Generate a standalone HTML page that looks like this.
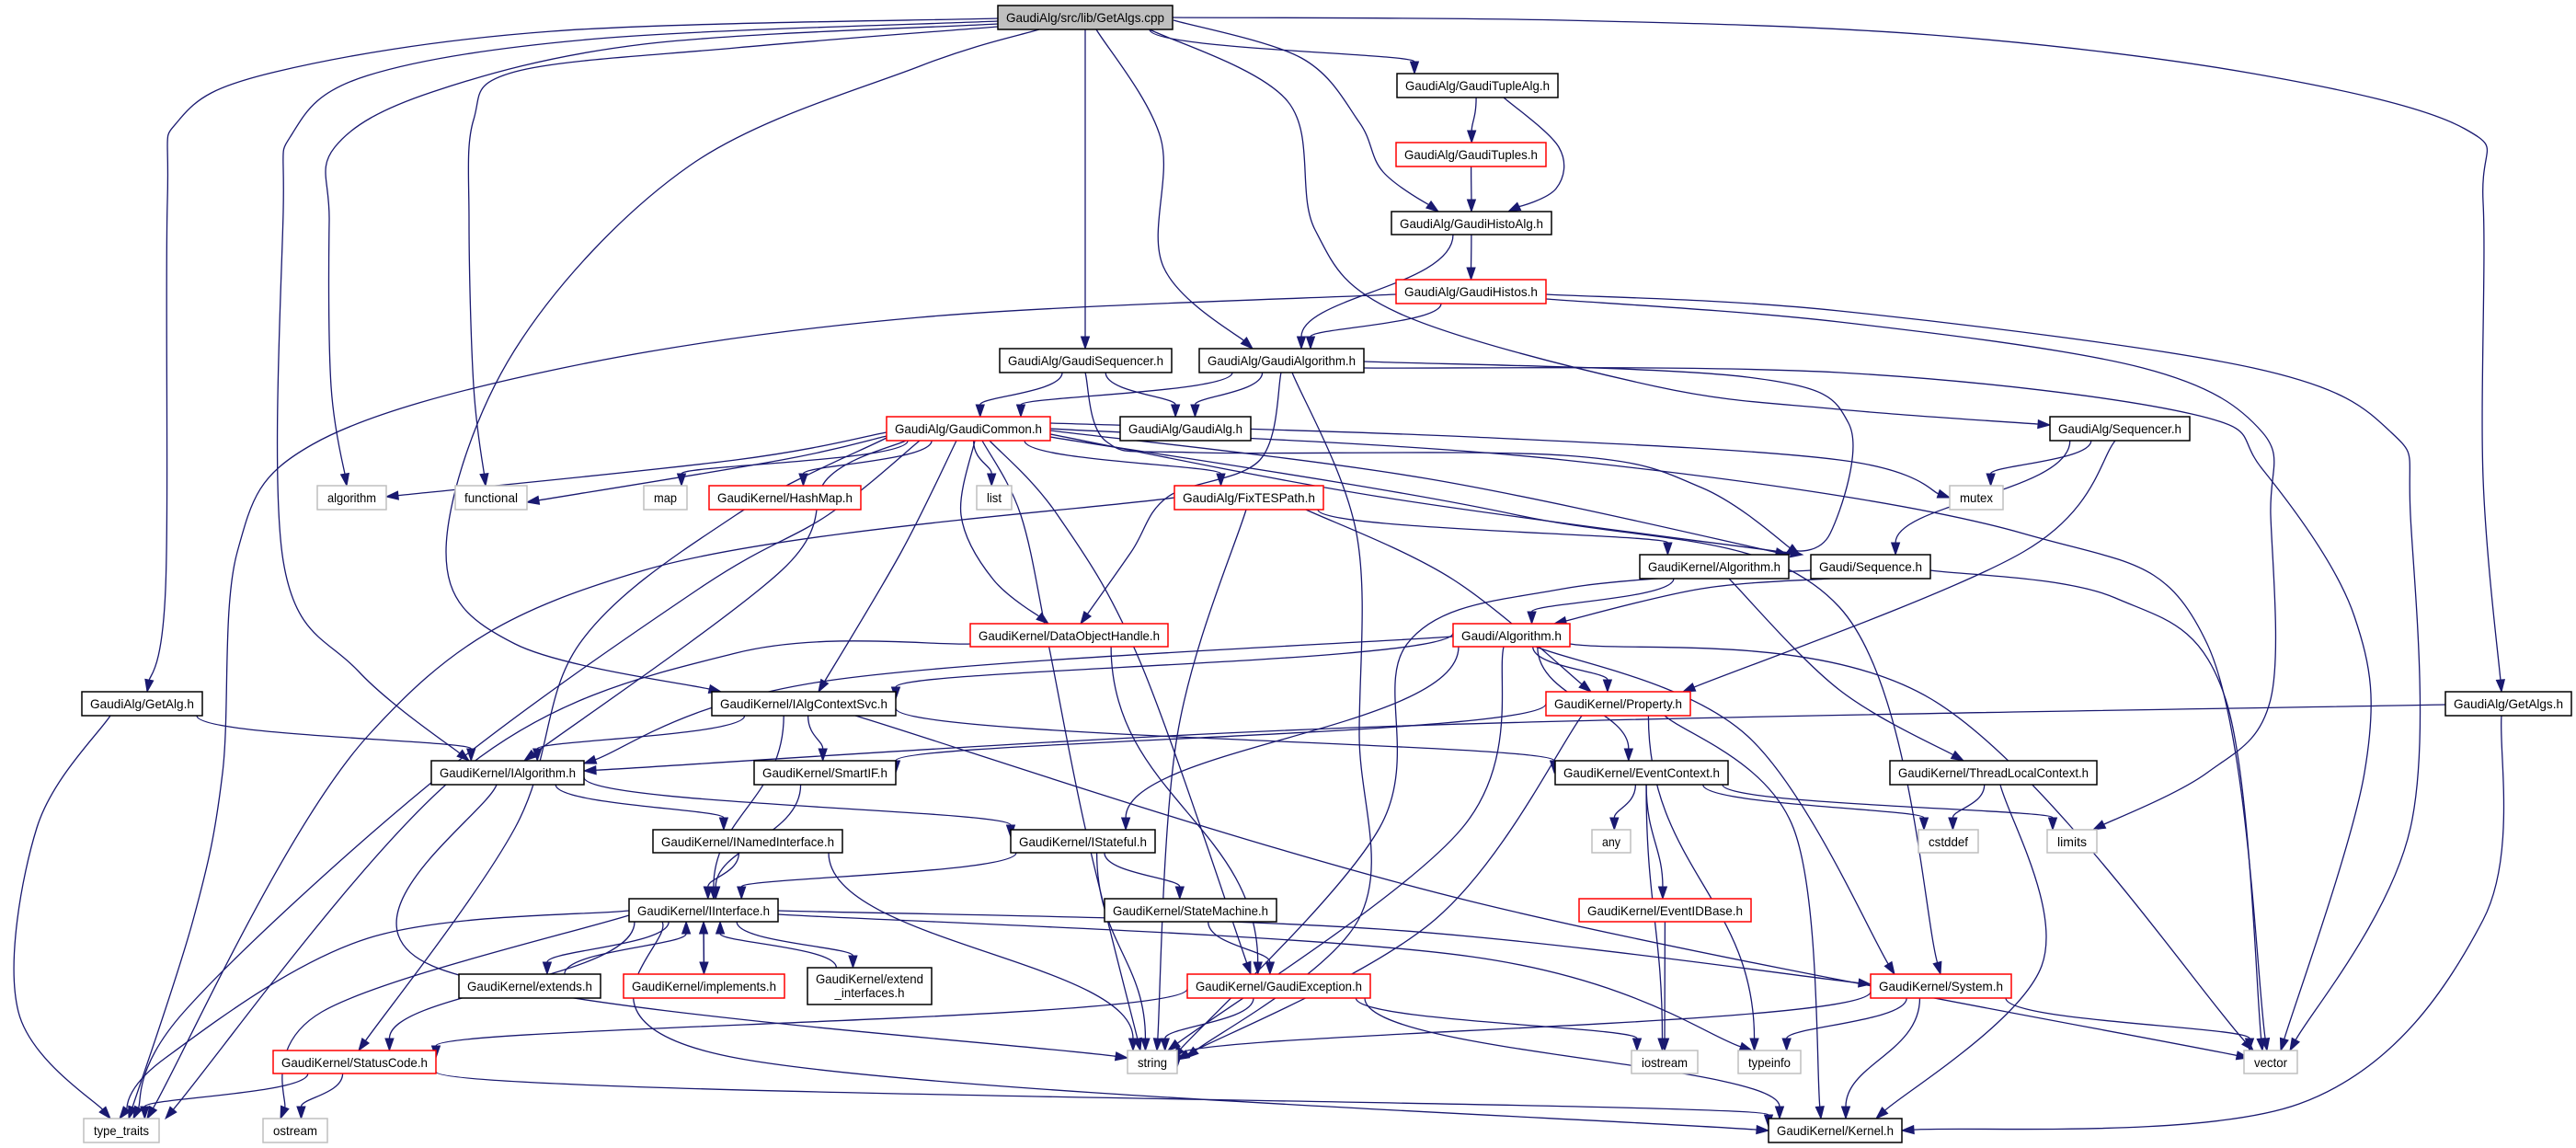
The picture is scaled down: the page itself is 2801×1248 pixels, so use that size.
<!DOCTYPE html>
<html><head><meta charset="utf-8">
<style>
html,body{margin:0;padding:0;background:#fff;}
svg{display:block;}
text{font-family:"Liberation Sans",sans-serif;font-size:14px;fill:#000;}
</style></head>
<body>
<svg id="g" xmlns="http://www.w3.org/2000/svg" width="2801" height="1248" viewBox="0 0 2801 1248">
<g id="edges"></g>
<g id="nodes">
<g id="cpp" data-t="root"><rect x="1085" y="6" width="190" height="26"/><text x="1180" y="24" text-anchor="middle" textLength="172" lengthAdjust="spacingAndGlyphs">GaudiAlg/src/lib/GetAlgs.cpp</text></g>
<g id="tuplealg"><rect x="1519" y="80" width="175" height="26"/><text x="1606.5" y="98" text-anchor="middle" textLength="157" lengthAdjust="spacingAndGlyphs">GaudiAlg/GaudiTupleAlg.h</text></g>
<g id="tuples" data-t="red"><rect x="1518" y="155" width="163" height="26"/><text x="1599.5" y="173" text-anchor="middle" textLength="145" lengthAdjust="spacingAndGlyphs">GaudiAlg/GaudiTuples.h</text></g>
<g id="histoalg"><rect x="1513" y="230" width="174" height="25"/><text x="1600" y="248" text-anchor="middle" textLength="156" lengthAdjust="spacingAndGlyphs">GaudiAlg/GaudiHistoAlg.h</text></g>
<g id="histos" data-t="red"><rect x="1518" y="304" width="163" height="26"/><text x="1599.5" y="322" text-anchor="middle" textLength="145" lengthAdjust="spacingAndGlyphs">GaudiAlg/GaudiHistos.h</text></g>
<g id="gseq"><rect x="1087" y="379" width="187" height="26"/><text x="1180.5" y="397" text-anchor="middle" textLength="169" lengthAdjust="spacingAndGlyphs">GaudiAlg/GaudiSequencer.h</text></g>
<g id="galgo"><rect x="1304" y="379" width="179" height="26"/><text x="1393.5" y="397" text-anchor="middle" textLength="161" lengthAdjust="spacingAndGlyphs">GaudiAlg/GaudiAlgorithm.h</text></g>
<g id="gcommon" data-t="red"><rect x="964" y="453" width="178" height="26"/><text x="1053" y="471" text-anchor="middle" textLength="160" lengthAdjust="spacingAndGlyphs">GaudiAlg/GaudiCommon.h</text></g>
<g id="galg"><rect x="1218" y="453" width="142" height="26"/><text x="1289" y="471" text-anchor="middle" textLength="124" lengthAdjust="spacingAndGlyphs">GaudiAlg/GaudiAlg.h</text></g>
<g id="sequencer"><rect x="2229" y="453" width="152" height="26"/><text x="2305" y="471" text-anchor="middle" textLength="134" lengthAdjust="spacingAndGlyphs">GaudiAlg/Sequencer.h</text></g>
<g id="algorithm" data-t="sys"><rect x="345" y="528" width="75" height="26"/><text x="382.5" y="546" text-anchor="middle" textLength="53" lengthAdjust="spacingAndGlyphs">algorithm</text></g>
<g id="functional" data-t="sys"><rect x="495" y="528" width="78" height="26"/><text x="534" y="546" text-anchor="middle" textLength="58" lengthAdjust="spacingAndGlyphs">functional</text></g>
<g id="map" data-t="sys"><rect x="700" y="528" width="47" height="26"/><text x="723.5" y="546" text-anchor="middle" textLength="25" lengthAdjust="spacingAndGlyphs">map</text></g>
<g id="hashmap" data-t="red"><rect x="771" y="528" width="165" height="26"/><text x="853.5" y="546" text-anchor="middle" textLength="147" lengthAdjust="spacingAndGlyphs">GaudiKernel/HashMap.h</text></g>
<g id="list" data-t="sys"><rect x="1062" y="528" width="38" height="26"/><text x="1081" y="546" text-anchor="middle" textLength="16" lengthAdjust="spacingAndGlyphs">list</text></g>
<g id="fixtes" data-t="red"><rect x="1277" y="528" width="162" height="26"/><text x="1358" y="546" text-anchor="middle" textLength="144" lengthAdjust="spacingAndGlyphs">GaudiAlg/FixTESPath.h</text></g>
<g id="mutex" data-t="sys"><rect x="2120" y="528" width="58" height="26"/><text x="2149" y="546" text-anchor="middle" textLength="36" lengthAdjust="spacingAndGlyphs">mutex</text></g>
<g id="kalgo"><rect x="1783" y="603" width="162" height="26"/><text x="1864" y="621" text-anchor="middle" textLength="144" lengthAdjust="spacingAndGlyphs">GaudiKernel/Algorithm.h</text></g>
<g id="gsequence"><rect x="1969" y="603" width="130" height="26"/><text x="2034" y="621" text-anchor="middle" textLength="112" lengthAdjust="spacingAndGlyphs">Gaudi/Sequence.h</text></g>
<g id="doh" data-t="red"><rect x="1055" y="678" width="215" height="25"/><text x="1162.5" y="696" text-anchor="middle" textLength="197" lengthAdjust="spacingAndGlyphs">GaudiKernel/DataObjectHandle.h</text></g>
<g id="galgorithm" data-t="red"><rect x="1580" y="678" width="127" height="25"/><text x="1643.5" y="696" text-anchor="middle" textLength="109" lengthAdjust="spacingAndGlyphs">Gaudi/Algorithm.h</text></g>
<g id="getalg"><rect x="89" y="752" width="131" height="26"/><text x="154.5" y="770" text-anchor="middle" textLength="113" lengthAdjust="spacingAndGlyphs">GaudiAlg/GetAlg.h</text></g>
<g id="iacs"><rect x="774" y="752" width="200" height="26"/><text x="874" y="770" text-anchor="middle" textLength="182" lengthAdjust="spacingAndGlyphs">GaudiKernel/IAlgContextSvc.h</text></g>
<g id="property" data-t="red"><rect x="1681" y="752" width="157" height="26"/><text x="1759.5" y="770" text-anchor="middle" textLength="139" lengthAdjust="spacingAndGlyphs">GaudiKernel/Property.h</text></g>
<g id="getalgs"><rect x="2659" y="752" width="137" height="26"/><text x="2727.5" y="770" text-anchor="middle" textLength="119" lengthAdjust="spacingAndGlyphs">GaudiAlg/GetAlgs.h</text></g>
<g id="ialgo"><rect x="469" y="827" width="166" height="26"/><text x="552" y="845" text-anchor="middle" textLength="148" lengthAdjust="spacingAndGlyphs">GaudiKernel/IAlgorithm.h</text></g>
<g id="smartif"><rect x="820" y="827" width="154" height="26"/><text x="897" y="845" text-anchor="middle" textLength="136" lengthAdjust="spacingAndGlyphs">GaudiKernel/SmartIF.h</text></g>
<g id="evctx"><rect x="1691" y="827" width="188" height="26"/><text x="1785" y="845" text-anchor="middle" textLength="170" lengthAdjust="spacingAndGlyphs">GaudiKernel/EventContext.h</text></g>
<g id="tlc"><rect x="2055" y="827" width="225" height="26"/><text x="2167.5" y="845" text-anchor="middle" textLength="207" lengthAdjust="spacingAndGlyphs">GaudiKernel/ThreadLocalContext.h</text></g>
<g id="inamed"><rect x="710" y="902" width="206" height="25"/><text x="813" y="920" text-anchor="middle" textLength="188" lengthAdjust="spacingAndGlyphs">GaudiKernel/INamedInterface.h</text></g>
<g id="istateful"><rect x="1099" y="902" width="157" height="25"/><text x="1177.5" y="920" text-anchor="middle" textLength="139" lengthAdjust="spacingAndGlyphs">GaudiKernel/IStateful.h</text></g>
<g id="any" data-t="sys"><rect x="1731" y="902" width="42" height="25"/><text x="1752" y="920" text-anchor="middle" textLength="20" lengthAdjust="spacingAndGlyphs">any</text></g>
<g id="cstddef" data-t="sys"><rect x="2086" y="902" width="65" height="25"/><text x="2118.5" y="920" text-anchor="middle" textLength="43" lengthAdjust="spacingAndGlyphs">cstddef</text></g>
<g id="limits" data-t="sys"><rect x="2226" y="902" width="54" height="25"/><text x="2253" y="920" text-anchor="middle" textLength="32" lengthAdjust="spacingAndGlyphs">limits</text></g>
<g id="iinterface"><rect x="684" y="977" width="162" height="25"/><text x="765" y="995" text-anchor="middle" textLength="144" lengthAdjust="spacingAndGlyphs">GaudiKernel/IInterface.h</text></g>
<g id="statemachine"><rect x="1201" y="977" width="187" height="25"/><text x="1294.5" y="995" text-anchor="middle" textLength="169" lengthAdjust="spacingAndGlyphs">GaudiKernel/StateMachine.h</text></g>
<g id="evid" data-t="red"><rect x="1717" y="977" width="187" height="25"/><text x="1810.5" y="995" text-anchor="middle" textLength="169" lengthAdjust="spacingAndGlyphs">GaudiKernel/EventIDBase.h</text></g>
<g id="extends"><rect x="499" y="1059" width="154" height="26"/><text x="576" y="1077" text-anchor="middle" textLength="136" lengthAdjust="spacingAndGlyphs">GaudiKernel/extends.h</text></g>
<g id="implements" data-t="red"><rect x="678" y="1059" width="175" height="26"/><text x="765.5" y="1077" text-anchor="middle" textLength="157" lengthAdjust="spacingAndGlyphs">GaudiKernel/implements.h</text></g>
<g id="extendi"><rect x="878" y="1052" width="135" height="40"/><text x="945.5" y="1069" text-anchor="middle" textLength="117" lengthAdjust="spacingAndGlyphs">GaudiKernel/extend</text><text x="945.5" y="1084" text-anchor="middle" textLength="76" lengthAdjust="spacingAndGlyphs">_interfaces.h</text></g>
<g id="gexc" data-t="red"><rect x="1291" y="1059" width="199" height="26"/><text x="1390.5" y="1077" text-anchor="middle" textLength="181" lengthAdjust="spacingAndGlyphs">GaudiKernel/GaudiException.h</text></g>
<g id="system" data-t="red"><rect x="2034" y="1059" width="153" height="26"/><text x="2110.5" y="1077" text-anchor="middle" textLength="135" lengthAdjust="spacingAndGlyphs">GaudiKernel/System.h</text></g>
<g id="statuscode" data-t="red"><rect x="297" y="1142" width="177" height="25"/><text x="385.5" y="1160" text-anchor="middle" textLength="159" lengthAdjust="spacingAndGlyphs">GaudiKernel/StatusCode.h</text></g>
<g id="string" data-t="sys"><rect x="1226" y="1142" width="54" height="25"/><text x="1253" y="1160" text-anchor="middle" textLength="32" lengthAdjust="spacingAndGlyphs">string</text></g>
<g id="iostream" data-t="sys"><rect x="1774" y="1142" width="72" height="25"/><text x="1810" y="1160" text-anchor="middle" textLength="50" lengthAdjust="spacingAndGlyphs">iostream</text></g>
<g id="typeinfo" data-t="sys"><rect x="1890" y="1142" width="68" height="25"/><text x="1924" y="1160" text-anchor="middle" textLength="46" lengthAdjust="spacingAndGlyphs">typeinfo</text></g>
<g id="vector" data-t="sys"><rect x="2440" y="1142" width="58" height="25"/><text x="2469" y="1160" text-anchor="middle" textLength="36" lengthAdjust="spacingAndGlyphs">vector</text></g>
<g id="typetraits" data-t="sys"><rect x="91" y="1216" width="82" height="26"/><text x="132" y="1234" text-anchor="middle" textLength="60" lengthAdjust="spacingAndGlyphs">type_traits</text></g>
<g id="ostream" data-t="sys"><rect x="286" y="1216" width="70" height="26"/><text x="321" y="1234" text-anchor="middle" textLength="48" lengthAdjust="spacingAndGlyphs">ostream</text></g>
<g id="kernel"><rect x="1923" y="1216" width="145" height="26"/><text x="1995.5" y="1234" text-anchor="middle" textLength="127" lengthAdjust="spacingAndGlyphs">GaudiKernel/Kernel.h</text></g>
</g>
</svg>
<script>
(function(){
var NS="http://www.w3.org/2000/svg";
var N={};
var gs=document.querySelectorAll('#nodes > g');
for(var i=0;i<gs.length;i++){
  var g=gs[i], r=g.querySelector('rect');
  var x=+r.getAttribute('x'),y=+r.getAttribute('y'),w=+r.getAttribute('width'),h=+r.getAttribute('height');
  var t=g.getAttribute('data-t');
  r.setAttribute('fill',t==='root'?'#bfbfbf':'#ffffff');
  r.setAttribute('stroke',t==='red'?'#ff0000':(t==='sys'?'#bfbfbf':'#000000'));
  r.setAttribute('stroke-width','1.5');
  N[g.id]={x:x,y:y,w:w,h:h,cx:x+w/2,b:y+h};
}
var C="#191970";
var E=document.getElementById('edges');
function cl(v,a,b){return Math.max(a,Math.min(b,v));}
function arrow(p,q){ // q end, p previous control
  var dx=q[0]-p[0],dy=q[1]-p[1],L=Math.sqrt(dx*dx+dy*dy)||1;dx/=L;dy/=L;
  var al=13,aw=4.5;
  var bx=q[0]-dx*al,by=q[1]-dy*al;
  var pg=document.createElementNS(NS,'polygon');
  pg.setAttribute('points',q[0]+','+q[1]+' '+(bx-dy*aw)+','+(by+dx*aw)+' '+(bx+dy*aw)+','+(by-dx*aw));
  pg.setAttribute('fill',C);pg.setAttribute('stroke',C);
  E.appendChild(pg);
  return [bx,by];
}
function draw(pts){
  var n=pts.length,d,last,prev;
  if(n===2){
    var s=pts[0],e=pts[1],dy=(e[1]-s[1])*0.45;
    var c1=[s[0],s[1]+dy],c2=[e[0],e[1]-dy];
    if(Math.abs(e[1]-s[1])<8){c1=[(s[0]*2+e[0])/3,s[1]];c2=[(s[0]+2*e[0])/3,e[1]];}
    var b=arrow(c2,e);
    d='M'+s[0]+','+s[1]+' C'+c1[0]+','+c1[1]+' '+c2[0]+','+c2[1]+' '+b[0]+','+b[1];
  } else {
    d='M'+pts[0][0]+','+pts[0][1];
    var segs=[];
    for(var i=0;i<n-1;i++){
      var p0=pts[i-1]||pts[i],p1=pts[i],p2=pts[i+1],p3=pts[i+2]||pts[i+1];
      var a=[p1[0]+(p2[0]-p0[0])/6,p1[1]+(p2[1]-p0[1])/6];
      var c=[p2[0]-(p3[0]-p1[0])/6,p2[1]-(p3[1]-p1[1])/6];
      segs.push([a,c,p2]);
    }
    var ls=segs[segs.length-1];
    var bb=arrow(ls[1],ls[2]);
    ls[2]=bb;
    for(var j=0;j<segs.length;j++){var sg=segs[j];d+=' C'+sg[0][0]+','+sg[0][1]+' '+sg[1][0]+','+sg[1][1]+' '+sg[2][0]+','+sg[2][1];}
  }
  var p=document.createElementNS(NS,'path');
  p.setAttribute('d',d);p.setAttribute('fill','none');p.setAttribute('stroke',C);p.setAttribute('stroke-width','1.3');
  E.insertBefore(p,E.firstChild);
}
function e(s,t,wp){
  var S=N[s],T=N[t];
  if(wp){draw(wp);return;}
  var sx,sy,tx,ty;
  if(T.y>S.b){
    sx=S.cx+cl((T.cx-S.cx)*0.2,-S.w/2+6,S.w/2-6);sy=S.b;
    tx=T.cx+cl((S.cx-T.cx)*0.1,-T.w/2+6,T.w/2-6);ty=T.y;
  } else if(T.b<S.y){
    sx=S.cx+cl((T.cx-S.cx)*0.2,-S.w/2+6,S.w/2-6);sy=S.y;
    tx=T.cx+cl((S.cx-T.cx)*0.1,-T.w/2+6,T.w/2-6);ty=T.b;
  } else {
    if(T.cx>S.cx){sx=S.x+S.w;tx=T.x;}else{sx=S.x;tx=T.x+T.w;}
    sy=S.y+S.h/2;ty=T.y+T.h/2;
  }
  draw([[sx,sy],[tx,ty]]);
}
// GetAlgs.cpp
e('cpp','getalg',[[1085,20],[600,34],[300,78],[195,130],[182,220],[180,640],[160,752]]);
e('cpp','ialgo',[[1085,23],[650,42],[400,82],[318,145],[308,230],[308,610],[390,730],[510,827]]);
e('cpp','algorithm',[[1085,26],[700,48],[470,100],[364,160],[358,240],[360,420],[377,528]]);
e('cpp','functional',[[1085,29],[800,52],[560,78],[515,130],[510,240],[515,420],[528,528]]);
e('cpp','iacs',[[1130,32],[1000,72],[750,180],[560,380],[485,600],[560,700],[784,752]]);
e('cpp','gseq',[[1180,32],[1180,379]]);
e('cpp','galgo',[[1192,32],[1262,150],[1265,290],[1362,379]]);
e('cpp','sequencer',[[1250,32],[1400,110],[1430,250],[1520,340],[1800,420],[2000,445],[2229,462]]);
e('cpp','histoalg',[[1276,22],[1415,63],[1478,133],[1504,187],[1564,230]]);
e('cpp','tuplealg',[[1250,32],[1538,80]]);
e('cpp','getalgs',[[1275,19],[1700,22],[2100,38],[2450,80],[2680,140],[2700,220],[2700,520],[2720,752]]);
e('tuplealg','tuples');
e('tuplealg','histoalg',[[1635,106],[1695,160],[1692,205],[1640,230]]);
e('tuples','histoalg');
e('histoalg','galgo',[[1580,255],[1415,379]]);
e('histoalg','histos');
e('histos','galgo',[[1567,330],[1425,379]]);
e('histos','typetraits',[[1518,320],[1000,345],[612,400],[340,483],[258,600],[242,840],[210,1000],[140,1216]]);
e('histos','vector',[[1681,320],[2000,338],[2450,400],[2600,470],[2621,560],[2621,900],[2490,1142]]);
e('histos','limits',[[1681,325],[2000,350],[2330,400],[2460,470],[2469,560],[2469,760],[2400,840],[2276,902]]);
e('gseq','gcommon');
e('gseq','galg');
e('gseq','gsequence',[[1180,405],[1203,480],[1300,492],[1700,495],[1850,530],[1957,603]]);
e('galgo','gcommon',[[1340,405],[1110,453]]);
e('galgo','galg');
e('galgo','doh',[[1393,405],[1370,500],[1270,540],[1230,600],[1175,678]]);
e('galgo','string',[[1405,405],[1475,580],[1478,800],[1477,1000],[1290,1150]]);
e('galgo','kalgo',[[1483,393],[1900,410],[2010,460],[1990,580],[1940,603]]);
e('galgo','vector',[[1483,400],[2000,405],[2383,450],[2460,510],[2560,670],[2571,840],[2480,1142]]);
e('gcommon','algorithm',[[964,470],[800,500],[420,540]]);
e('gcommon','functional',[[964,474],[850,500],[573,546]]);
e('gcommon','map');
e('gcommon','hashmap');
e('gcommon','list');
e('gcommon','fixtes');
e('gcommon','doh',[[1060,479],[1045,560],[1080,630],[1140,678]]);
e('gcommon','iacs',[[1040,479],[980,600],[890,752]]);
e('gcommon','ialgo',[[985,479],[900,520],[850,620],[570,827]]);
e('gcommon','statuscode',[[964,476],[800,560],[630,700],[560,900],[390,1142]]);
e('gcommon','gexc',[[1076,479],[1150,560],[1240,720],[1360,1059]]);
e('gcommon','string',[[1068,479],[1110,560],[1140,700],[1180,900],[1240,1142]]);
e('gcommon','typetraits',[[1000,479],[900,560],[760,640],[470,850],[200,1100],[145,1216]]);
e('gcommon','mutex',[[1142,460],[1600,475],[2000,500],[2120,541]]);
e('gcommon','kalgo',[[1142,468],[1550,520],[1944,603]]);
e('gcommon','gsequence',[[1142,472],[1500,540],[1960,603]]);
e('gcommon','vector',[[1142,466],[1700,500],[2200,580],[2400,700],[2465,1142]]);
e('gcommon','system',[[1142,475],[1650,560],[2000,660],[2110,1059]]);
e('fixtes','kalgo');
e('fixtes','property',[[1420,554],[1580,630],[1730,752]]);
e('fixtes','string',[[1355,554],[1280,800],[1258,1142]]);
e('fixtes','typetraits',[[1277,541],[700,620],[400,800],[160,1216]]);
e('kalgo','galgorithm');
e('kalgo','tlc',[[1880,629],[2000,750],[2135,827]]);
e('gsequence','galgorithm',[[1990,629],[1850,640],[1690,678]]);
e('gsequence','string',[[1969,620],[1700,640],[1530,700],[1500,900],[1275,1150]]);
e('gsequence','vector',[[2099,620],[2300,650],[2420,760],[2460,1142]]);
e('sequencer','mutex');
e('sequencer','gsequence');
e('sequencer','property',[[2300,479],[2200,600],[1830,752]]);
e('doh','typetraits',[[1055,700],[800,710],[500,840],[180,1216]]);
e('doh','gexc');
e('galgorithm','iacs',[[1580,688],[974,760]]);
e('galgorithm','ialgo',[[1580,692],[900,740],[635,830]]);
e('galgorithm','property');
e('galgorithm','evctx');
e('galgorithm','istateful');
e('galgorithm','string',[[1635,703],[1590,900],[1270,1142]]);
e('galgorithm','system',[[1670,703],[1900,800],[2060,1059]]);
e('galgorithm','vector',[[1707,700],[2100,760],[2450,1142]]);
e('iacs','ialgo');
e('iacs','smartif');
e('iacs','iinterface');
e('iacs','evctx',[[974,770],[1690,840]]);
e('iacs','vector',[[930,778],[1600,980],[2445,1150]]);
e('property','smartif',[[1681,765],[974,840]]);
e('property','string',[[1720,778],[1560,1000],[1280,1152]]);
e('property','typeinfo');
e('property','kernel',[[1810,778],[1950,900],[1980,1216]]);
e('getalg','ialgo');
e('getalg','typetraits',[[120,778],[40,900],[20,1100],[120,1216]]);
e('getalgs','ialgo',[[2659,766],[1500,790],[635,838]]);
e('getalgs','kernel',[[2720,778],[2700,1000],[2500,1200],[2068,1229]]);
e('ialgo','inamed');
e('ialgo','istateful',[[635,845],[1099,910]]);
e('ialgo','string',[[540,853],[470,1050],[1226,1150]]);
e('smartif','iinterface');
e('evctx','any');
e('evctx','evid');
e('evctx','iostream');
e('evctx','cstddef');
e('evctx','limits');
e('tlc','cstddef');
e('tlc','kernel',[[2175,853],[2220,1050],[2040,1216]]);
e('inamed','iinterface');
e('inamed','string');
e('istateful','iinterface');
e('istateful','statemachine');
e('istateful','string');
e('statemachine','gexc');
e('evid','iostream');
e('iinterface','extends');
e('iinterface','implements');
e('iinterface','extendi');
e('iinterface','statuscode');
e('iinterface','typetraits',[[684,990],[400,1020],[180,1150],[130,1216]]);
e('iinterface','ostream',[[684,995],[350,1100],[305,1216]]);
e('iinterface','system',[[846,990],[1500,1010],[2034,1070]]);
e('iinterface','typeinfo',[[846,994],[1600,1040],[1905,1142]]);
e('iinterface','kernel',[[720,1002],[800,1150],[1923,1229]]);
e('extends','iinterface');
e('implements','iinterface');
e('extendi','iinterface');
e('gexc','statuscode',[[1291,1075],[474,1150]]);
e('gexc','string');
e('gexc','iostream');
e('gexc','kernel');
e('statuscode','typetraits');
e('statuscode','ostream');
e('statuscode','kernel',[[474,1165],[1923,1225]]);
e('system','string',[[2034,1078],[1280,1160]]);
e('system','typeinfo');
e('system','vector');
e('system','kernel');
})();
</script>
</body></html>
